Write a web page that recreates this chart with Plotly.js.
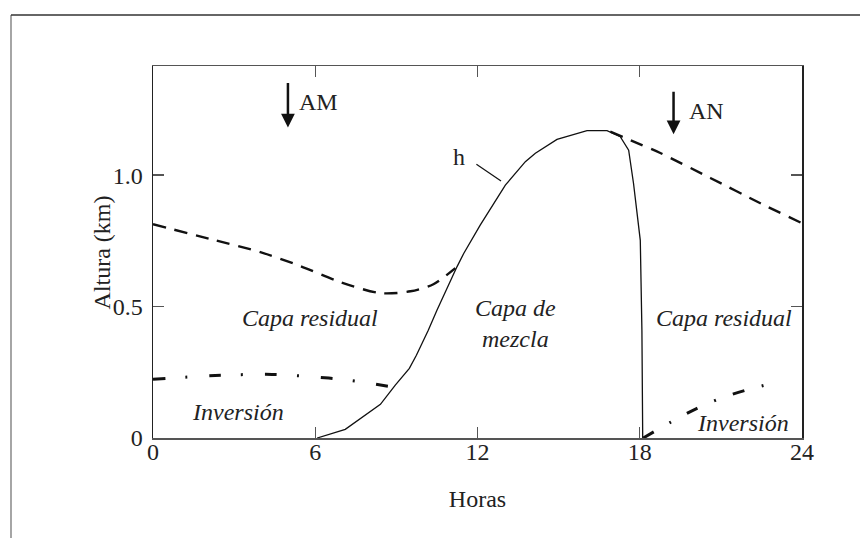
<!DOCTYPE html>
<html>
<head>
<meta charset="utf-8">
<script src="https://cdn.plot.ly/plotly-3.0.1.min.js"></script>
<style>
  html, body { margin: 0; padding: 0; background: #fff; }
  #chart { width: 860px; height: 538px; }
</style>
</head>
<body>
<div id="chart"></div>
<script>
// altura de la capa de mezcla, h (km) frente a la hora del dia
const hHoras  = [6.07, 7.11, 8.41, 8.96, 9.48, 9.74, 10.18, 10.5, 11.24, 11.49, 12.1, 13.03, 13.77, 14.14, 14.94, 16.05, 16.79, 17.28, 17.59, 17.77, 18.02, 18.08, 18.11];
const hAltura = [0, 0.033, 0.128, 0.201, 0.265, 0.315, 0.41, 0.486, 0.651, 0.702, 0.81, 0.962, 1.051, 1.083, 1.136, 1.169, 1.169, 1.146, 1.095, 0.968, 0.752, 0.41, 0];

// tope de la capa residual (antes y despues de la capa de mezcla)
const resAmHoras  = [0, 2.3, 3.97, 5.45, 6.93, 8.41, 9.52, 10.37, 11.18];
const resAmAltura = [0.813, 0.752, 0.707, 0.654, 0.593, 0.551, 0.558, 0.585, 0.646];
const resAnHoras  = [16.91, 18.76, 20.61, 22.46, 24];
const resAnAltura = [1.165, 1.084, 0.989, 0.893, 0.817];

// tope de la inversion nocturna
const invAmHoras  = [0, 2.3, 4.4, 5.45, 6.5, 7.54, 8.84];
const invAmAltura = [0.223, 0.238, 0.242, 0.236, 0.228, 0.216, 0.194];
const invAnHoras  = [18.13, 19.16, 20.1, 21.07, 22.1, 23.1];
const invAnAltura = [0, 0.061, 0.112, 0.154, 0.187, 0.213];

const horasTicks = [0, 6, 12, 18, 24];
const alturaTicks = [0, 0.5, 1.0];
const alturaLabels = ['0', '0.5', '1.0'];

const serif = 'Liberation Serif, Times New Roman, serif';
const ink = '#111';

const data = [
  {x: hHoras, y: hAltura, type: 'scatter', mode: 'lines',
   line: {color: ink, width: 1.3}},
  {x: resAmHoras, y: resAmAltura, type: 'scatter', mode: 'lines',
   line: {color: ink, width: 2.4, dash: '13px,9px', shape: 'spline', smoothing: 0.8}},
  {x: resAnHoras, y: resAnAltura, type: 'scatter', mode: 'lines',
   line: {color: ink, width: 2.4, dash: '13px,9px', shape: 'spline', smoothing: 0.6}},
  {x: invAmHoras, y: invAmAltura, type: 'scatter', mode: 'lines',
   line: {color: ink, width: 3, dash: '12px,20px,2px,22px', shape: 'spline', smoothing: 0.8}},
  {x: invAnHoras, y: invAnAltura, type: 'scatter', mode: 'lines',
   line: {color: ink, width: 3, dash: '12px,18px,2px,18px', shape: 'spline', smoothing: 0.8}}
];

const txt = {family: serif, size: 24, color: '#222'};
const itxt = {family: serif, size: 24, color: '#222', style: 'italic'};

const layout = {
  width: 860,
  height: 538,
  margin: {l: 153, r: 58, t: 66, b: 100},
  paper_bgcolor: '#fff',
  plot_bgcolor: '#fff',
  font: txt,
  showlegend: false,
  xaxis: {
    range: [0, 24],
    tickvals: horasTicks,
    ticks: 'inside', ticklen: 11, tickwidth: 1.3, tickcolor: '#555',
    showline: true, linecolor: '#555', linewidth: 1.5, mirror: 'ticks',
    showgrid: false, zeroline: false, automargin: false,
    ticklabelstandoff: -8,
    tickfont: txt,
    title: {text: 'Horas', font: txt, standoff: 26}
  },
  yaxis: {
    range: [0, 1.415],
    tickvals: alturaTicks,
    ticktext: alturaLabels,
    ticks: 'inside', ticklen: 11, tickwidth: 1.3, tickcolor: '#555',
    showline: true, linecolor: '#222', linewidth: 1.5, mirror: 'ticks',
    showgrid: false, zeroline: false, automargin: false,
    ticklabelstandoff: 4,
    tickfont: txt
  },
  shapes: [
    // marco exterior de la figura
    {type: 'line', xref: 'paper', yref: 'paper', x0: -0.2188, x1: -0.2188, y0: -0.5, y1: 1.137,
     line: {color: '#888', width: 1.5}},
    {type: 'line', xref: 'paper', yref: 'paper', x0: -0.2188, x1: 1.3, y0: 1.137, y1: 1.137,
     line: {color: '#333', width: 1.5}},
    // guia de la etiqueta h
    {type: 'line', xref: 'x', yref: 'y', x0: 11.96, y0: 1.041, x1: 12.87, y1: 0.978,
     line: {color: ink, width: 1.2}}
  ],
  annotations: [
    // titulo del eje vertical
    {x: -0.101, y: 0.5, xref: 'paper', yref: 'paper', text: 'Altura (km)', textangle: -90,
     showarrow: false, font: txt},
    {x: 4.99, y: 1.181, xref: 'x', yref: 'y', text: '', showarrow: true, ax: 0, ay: -46,
     arrowhead: 2, arrowsize: 1.1, arrowwidth: 2.5, arrowcolor: ink},
    {x: 6.11, y: 1.279, xref: 'x', yref: 'y', text: 'AM', showarrow: false, font: txt},
    {x: 19.25, y: 1.155, xref: 'x', yref: 'y', text: '', showarrow: true, ax: 0, ay: -44,
     arrowhead: 2, arrowsize: 1.1, arrowwidth: 2.5, arrowcolor: ink},
    {x: 20.46, y: 1.243, xref: 'x', yref: 'y', text: 'AN', showarrow: false, font: txt},
    {x: 11.33, y: 1.068, xref: 'x', yref: 'y', text: 'h', showarrow: false, font: txt},
    {x: 5.81, y: 0.456, xref: 'x', yref: 'y', text: 'Capa residual', showarrow: false, font: itxt},
    {x: 13.4, y: 0.437, xref: 'x', yref: 'y', text: 'Capa de<br>mezcla', showarrow: false, font: itxt},
    {x: 21.13, y: 0.456, xref: 'x', yref: 'y', text: 'Capa residual', showarrow: false, font: itxt},
    {x: 3.14, y: 0.098, xref: 'x', yref: 'y', text: 'Inversión', showarrow: false, font: itxt},
    {x: 21.81, y: 0.056, xref: 'x', yref: 'y', text: 'Inversión', showarrow: false, font: itxt}
  ]
};

Plotly.newPlot('chart', data, layout, {displayModeBar: false, staticPlot: true});
</script>
</body>
</html>
